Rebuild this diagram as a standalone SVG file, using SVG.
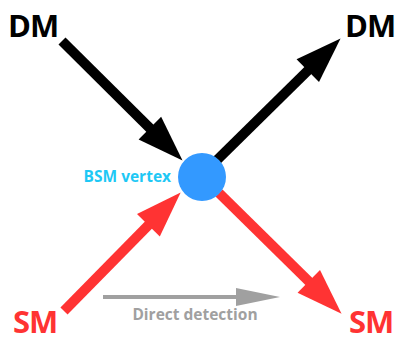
<svg xmlns="http://www.w3.org/2000/svg" width="395" height="343" viewBox="0 0 395 343">
<style>
.lbl{font-family:"Open Sans","Liberation Sans",sans-serif;font-weight:bold}
.big{font-size:31px;letter-spacing:-1px}
.blk{stroke:#000;stroke-width:10;fill:none}
.red{stroke:#ff3333;stroke-width:10;fill:none}
.gry{stroke:#a0a0a0;stroke-width:4;fill:none}
</style>
<defs>
<marker id="ab" markerUnits="userSpaceOnUse" orient="auto" refX="2" refY="0" markerWidth="50" markerHeight="40" viewBox="0 -20 50 40" overflow="visible"><path d="M0,-16 L46,0 L0,16 z" fill="#000"/></marker>
<marker id="ar" markerUnits="userSpaceOnUse" orient="auto" refX="2" refY="0" markerWidth="50" markerHeight="40" viewBox="0 -20 50 40" overflow="visible"><path d="M0,-16 L46,0 L0,16 z" fill="#ff3333"/></marker>
<marker id="ag" markerUnits="userSpaceOnUse" orient="auto" refX="2" refY="0" markerWidth="50" markerHeight="30" viewBox="0 -15 50 30" overflow="visible"><path d="M0,-9 L44,0 L0,9 z" fill="#a0a0a0"/></marker>
</defs>
<g id="connectors">
<line class="blk" x1="62" y1="41" x2="151.3" y2="129.6" marker-end="url(#ab)"/>
<line class="blk" x1="215" y1="162" x2="309.2" y2="69.3" marker-end="url(#ab)"/>
<line class="red" x1="64" y1="311" x2="149.8" y2="223.8" marker-end="url(#ar)"/>
<line class="red" x1="219" y1="193" x2="310.2" y2="282.8" marker-end="url(#ar)"/>
<line class="gry" x1="103" y1="297" x2="238" y2="297" marker-end="url(#ag)"/>
</g>
<g id="vertex">
<circle cx="202" cy="177" r="24" fill="#3399ff"/>
<text class="lbl" x="171" y="182" font-size="15.5" fill="#1ec8f5" text-anchor="end">BSM vertex</text>
</g>
<g id="dm-in"><text class="lbl big" x="8" y="37" fill="#000">DM</text></g>
<g id="dm-out"><text class="lbl big" x="345" y="37" fill="#000">DM</text></g>
<g id="sm-in"><text class="lbl big" x="13" y="333" fill="#ff3333">SM</text></g>
<g id="sm-out"><text class="lbl big" x="349" y="333" fill="#ff3333">SM</text></g>
<g id="direct"><text class="lbl" x="195" y="320" font-size="15.5" fill="#a0a0a0" text-anchor="middle">Direct detection</text></g>
</svg>
